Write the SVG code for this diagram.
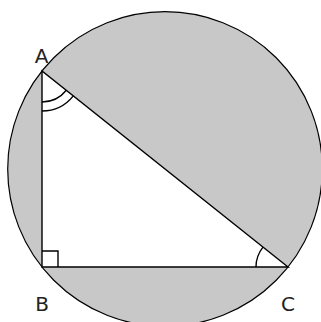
<svg xmlns="http://www.w3.org/2000/svg" width="321" height="322" viewBox="0 0 321 322">
<style>
.ln{fill:none;stroke:#000;stroke-width:1.4}
.lbl{font-family:"DejaVu Sans",sans-serif;font-size:20px;fill:#222;text-anchor:middle}
</style>
<rect width="321" height="322" fill="#fff"/>
<circle id="circle" cx="165" cy="169" r="157.3" fill="#c8c8c8" stroke="#000" stroke-width="1.2"/>
<g id="triangle">
<polygon points="42,71 42,267 288,267" fill="#fff" stroke="#000" stroke-width="1.4"/>
</g>
<g id="marks">
<path class="ln" d="M42,102 A31,31 0 0 0 66.3,90.3"/>
<path class="ln" d="M42,111 A40,40 0 0 0 73.3,95.9"/>
<path class="ln" d="M256,267 A32,32 0 0 1 263,247.1"/>
<path class="ln" d="M42,251 H58 V267"/>
</g>
<g id="labels">
<text class="lbl" x="41.5" y="63">A</text>
<text class="lbl" x="42" y="311">B</text>
<text class="lbl" x="288" y="311">C</text>
</g>
</svg>
